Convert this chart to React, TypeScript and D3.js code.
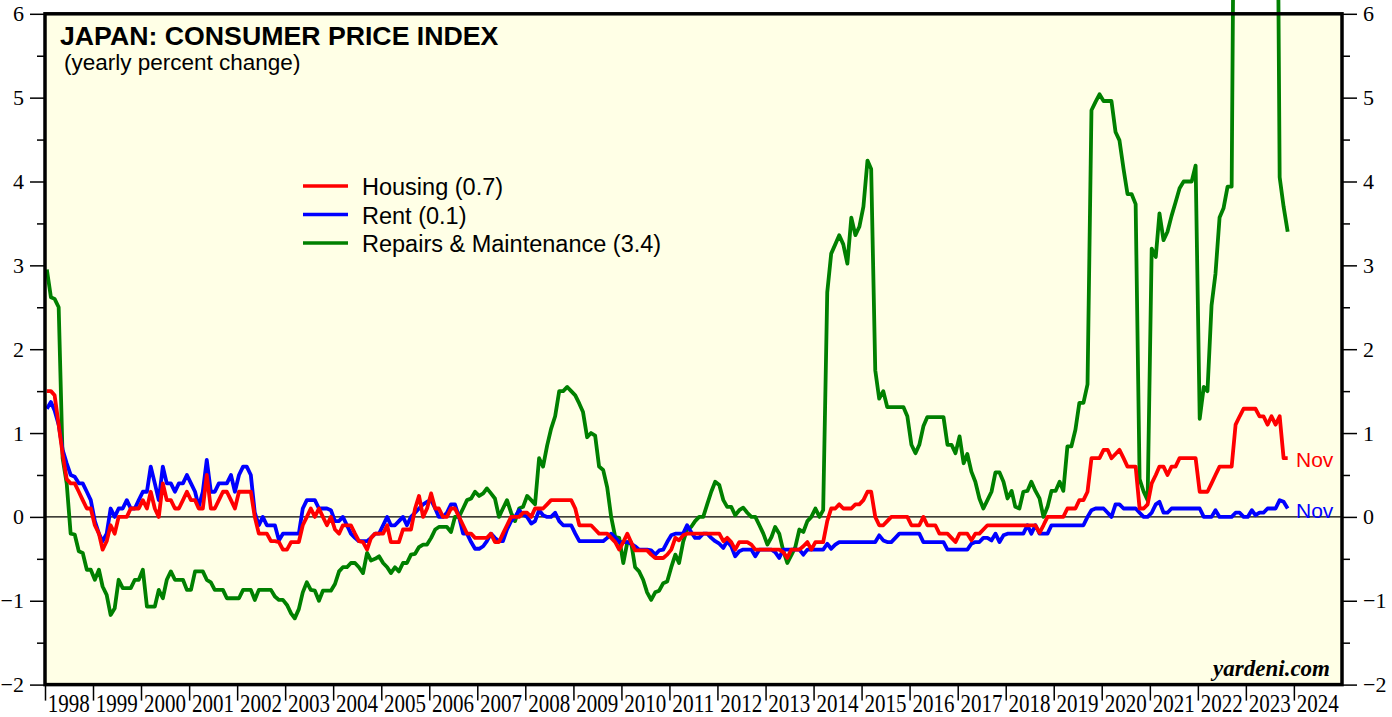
import React, { useEffect, useRef } from 'react'
import * as d3 from 'd3'

// monthly yearly % change, Jan 1998 .. Nov 2023
const housing = [
  1.5, 1.5, 1.45, 1.1, 0.75, 0.45, 0.4, 0.4, 0.3, 0.2, 0.1, 0.1, // 1998
  -0.1, -0.2, -0.39, -0.29, -0.1, -0.2, 0.0, 0.0, 0.0, 0.1, 0.1, 0.1,
  0.2, 0.1, 0.3, 0.1, 0.0, 0.4, 0.2, 0.2, 0.1, 0.1, 0.2, 0.3, // 2000
  0.2, 0.2, 0.1, 0.1, 0.5, 0.1, 0.1, 0.2, 0.3, 0.3, 0.2, 0.1,
  0.3, 0.3, 0.3, 0.3, 0.0, -0.2, -0.2, -0.2, -0.29, -0.29, -0.3, -0.39,
  -0.39, -0.3, -0.3, -0.3, -0.1, 0.0, 0.1, 0.0, 0.1, 0.0, -0.1, 0.0,
  -0.15, -0.2, -0.1, -0.1, -0.1, -0.2, -0.29, -0.3, -0.39, -0.25, -0.2, -0.2,
  -0.2, -0.1, -0.3, -0.3, -0.3, -0.15, -0.15, -0.15, 0.1, 0.25, 0.0, 0.1, // 2005
  0.28, 0.1, 0.1, 0.0, 0.0, 0.1, 0.1, 0.0, -0.1, -0.2, -0.2, -0.25,
  -0.25, -0.25, -0.25, -0.2, -0.3, -0.3, -0.2, -0.1, 0.0, 0.0, 0.0, 0.05,
  0.05, 0.0, 0.1, 0.1, 0.1, 0.15, 0.2, 0.2, 0.2, 0.2, 0.2, 0.2,
  0.1, -0.1, -0.1, -0.1, -0.1, -0.15, -0.2, -0.2, -0.2, -0.25, -0.3, -0.39,
  -0.3, -0.2, -0.3, -0.4, -0.4, -0.4, -0.4, -0.45, -0.49, -0.49, -0.49, -0.45, // 2010
  -0.39, -0.25, -0.28, -0.22, -0.2, -0.2, -0.2, -0.2, -0.2, -0.2, -0.2, -0.2,
  -0.2, -0.29, -0.25, -0.3, -0.39, -0.3, -0.3, -0.3, -0.33, -0.39, -0.39, -0.39,
  -0.39, -0.39, -0.39, -0.39, -0.42, -0.49, -0.39, -0.39, -0.39, -0.35, -0.3, -0.39,
  -0.3, -0.3, -0.3, -0.05, 0.1, 0.1, 0.15, 0.1, 0.1, 0.1, 0.15, 0.15,
  0.2, 0.3, 0.3, 0.0, -0.1, -0.1, -0.05, 0.0, 0.0, 0.0, 0.0, 0.0, // 2015
  -0.1, -0.1, -0.1, 0.0, -0.1, -0.1, -0.1, -0.2, -0.2, -0.2, -0.25, -0.3,
  -0.2, -0.2, -0.2, -0.28, -0.2, -0.2, -0.15, -0.1, -0.1, -0.1, -0.1, -0.1,
  -0.1, -0.1, -0.1, -0.1, -0.1, -0.1, -0.1, -0.1, -0.19, -0.1, 0.0, 0.0,
  0.0, 0.0, 0.0, 0.1, 0.1, 0.1, 0.2, 0.2, 0.3, 0.7, 0.7, 0.7,
  0.8, 0.8, 0.7, 0.75, 0.8, 0.7, 0.6, 0.6, 0.6, 0.1, 0.1, 0.15, // 2020
  0.4, 0.5, 0.6, 0.6, 0.5, 0.6, 0.6, 0.7, 0.7, 0.7, 0.7, 0.7,
  0.3, 0.3, 0.3, 0.4, 0.5, 0.6, 0.6, 0.6, 0.6, 1.1, 1.2, 1.29,
  1.29, 1.29, 1.29, 1.2, 1.2, 1.1, 1.2, 1.1, 1.2, 0.7, 0.7,
]

const rent = [
  1.29, 1.37, 1.27, 1.1, 0.8, 0.64, 0.5, 0.48, 0.4, 0.4, 0.3, 0.2, // 1998
  -0.05, -0.2, -0.29, -0.2, 0.1, 0.0, 0.1, 0.1, 0.2, 0.1, 0.1, 0.2,
  0.3, 0.3, 0.6, 0.4, 0.2, 0.6, 0.4, 0.4, 0.3, 0.4, 0.4, 0.5, // 2000
  0.4, 0.3, 0.12, 0.3, 0.68, 0.3, 0.3, 0.4, 0.4, 0.4, 0.5, 0.3,
  0.5, 0.6, 0.6, 0.5, 0.05, -0.1, 0.0, -0.1, -0.1, -0.1, -0.28, -0.2,
  -0.2, -0.2, -0.2, -0.2, 0.1, 0.2, 0.2, 0.2, 0.1, 0.1, 0.1, 0.08,
  -0.05, -0.05, 0.0, -0.1, -0.2, -0.25, -0.29, -0.29, -0.29, -0.25, -0.2, -0.2,
  -0.1, 0.0, -0.1, -0.1, -0.05, 0.0, -0.1, 0.0, 0.05, 0.1, 0.15, 0.18, // 2005
  0.2, 0.1, 0.0, 0.0, 0.05, 0.15, 0.15, 0.0, -0.2, -0.2, -0.3, -0.38,
  -0.38, -0.35, -0.29, -0.2, -0.25, -0.29, -0.29, -0.15, -0.05, 0.0, 0.08, 0.03,
  0.0, -0.08, -0.05, 0.08, 0.02, 0.0, 0.0, 0.05, -0.05, -0.1, -0.1, -0.1,
  -0.2, -0.29, -0.29, -0.29, -0.29, -0.29, -0.29, -0.29, -0.25, -0.2, -0.25, -0.3,
  -0.3, -0.3, -0.32, -0.35, -0.39, -0.39, -0.39, -0.4, -0.45, -0.4, -0.39, -0.3, // 2010
  -0.22, -0.2, -0.2, -0.2, -0.1, -0.18, -0.25, -0.25, -0.2, -0.2, -0.25, -0.29,
  -0.32, -0.37, -0.29, -0.35, -0.47, -0.41, -0.39, -0.39, -0.39, -0.47, -0.39, -0.39,
  -0.39, -0.39, -0.42, -0.49, -0.39, -0.39, -0.39, -0.39, -0.39, -0.45, -0.39, -0.39,
  -0.39, -0.39, -0.39, -0.32, -0.38, -0.33, -0.3, -0.3, -0.3, -0.3, -0.3, -0.3,
  -0.3, -0.3, -0.3, -0.3, -0.22, -0.28, -0.3, -0.3, -0.25, -0.2, -0.2, -0.2, // 2015
  -0.2, -0.2, -0.2, -0.3, -0.3, -0.3, -0.3, -0.3, -0.3, -0.39, -0.39, -0.39,
  -0.39, -0.39, -0.39, -0.32, -0.3, -0.3, -0.25, -0.25, -0.28, -0.2, -0.3, -0.22,
  -0.2, -0.2, -0.2, -0.2, -0.2, -0.1, -0.2, -0.1, -0.2, -0.2, -0.2, -0.1,
  -0.1, -0.1, -0.1, -0.1, -0.1, -0.1, -0.1, -0.1, 0.0, 0.08, 0.1, 0.1,
  0.1, 0.05, 0.0, 0.15, 0.15, 0.1, 0.1, 0.1, 0.1, 0.05, 0.0, 0.0, // 2020
  0.05, 0.15, 0.18, 0.05, 0.05, 0.1, 0.1, 0.1, 0.1, 0.1, 0.1, 0.1,
  0.1, 0.0, 0.0, 0.0, 0.08, 0.0, 0.0, 0.0, 0.0, 0.05, 0.05, 0.0,
  0.0, 0.08, 0.02, 0.05, 0.05, 0.1, 0.1, 0.1, 0.2, 0.18, 0.1,
]

const repairs = [
  2.95, 2.62, 2.6, 2.5, 0.7, 0.4, -0.2, -0.21, -0.41, -0.43, -0.63, -0.63, // 1998
  -0.75, -0.63, -0.83, -0.93, -1.17, -1.09, -0.75, -0.85, -0.85, -0.85, -0.75, -0.75,
  -0.63, -1.07, -1.07, -1.07, -0.87, -0.97, -0.75, -0.65, -0.75, -0.75, -0.75, -0.87, // 2000
  -0.87, -0.65, -0.65, -0.65, -0.75, -0.78, -0.87, -0.87, -0.87, -0.97, -0.97, -0.97,
  -0.97, -0.87, -0.87, -0.87, -0.99, -0.87, -0.87, -0.87, -0.87, -0.95, -0.99, -0.99,
  -1.05, -1.15, -1.21, -1.1, -0.9, -0.78, -0.87, -0.88, -1.0, -0.88, -0.88, -0.88,
  -0.8, -0.65, -0.6, -0.6, -0.55, -0.55, -0.6, -0.67, -0.43, -0.52, -0.5, -0.47,
  -0.55, -0.6, -0.67, -0.6, -0.65, -0.55, -0.55, -0.45, -0.44, -0.36, -0.33, -0.33, // 2005
  -0.25, -0.15, -0.12, -0.12, -0.12, -0.18, 0.0, 0.0, 0.1, 0.2, 0.22, 0.3,
  0.25, 0.28, 0.34, 0.28, 0.22, 0.0, 0.1, 0.2, 0.05, -0.05, 0.1, 0.12,
  0.25, 0.2, 0.15, 0.7, 0.6, 0.85, 1.05, 1.2, 1.5, 1.5, 1.55, 1.5,
  1.45, 1.35, 1.25, 0.95, 1.0, 0.97, 0.6, 0.56, 0.35, 0.0, -0.24, -0.25,
  -0.55, -0.3, -0.3, -0.6, -0.65, -0.75, -0.9, -0.99, -0.9, -0.88, -0.79, -0.77, // 2010
  -0.6, -0.45, -0.55, -0.3, -0.15, -0.12, -0.05, 0.0, 0.0, 0.15, 0.3, 0.42,
  0.38, 0.2, 0.12, 0.12, 0.02, 0.08, 0.11, 0.05, 0.0, 0.0, -0.1, -0.2,
  -0.33, -0.24, -0.12, -0.2, -0.4, -0.55, -0.46, -0.36, -0.15, -0.18, -0.05, 0.0,
  0.1, 0.0, 0.08, 2.68, 3.14, 3.25, 3.36, 3.25, 3.02, 3.57, 3.36, 3.46,
  3.7, 4.25, 4.15, 1.75, 1.41, 1.5, 1.31, 1.31, 1.31, 1.31, 1.31, 1.2, // 2015
  0.86, 0.76, 0.86, 1.08, 1.19, 1.19, 1.19, 1.19, 1.19, 0.86, 0.86, 0.76,
  0.96, 0.64, 0.75, 0.54, 0.42, 0.22, 0.1, 0.2, 0.3, 0.53, 0.53, 0.42,
  0.22, 0.31, 0.12, 0.1, 0.3, 0.31, 0.42, 0.31, 0.22, 0.0, 0.12, 0.31,
  0.31, 0.42, 0.31, 0.84, 0.84, 1.04, 1.36, 1.36, 1.58, 4.85, 4.95, 5.04,
  4.96, 4.96, 4.96, 4.59, 4.49, 4.15, 3.85, 3.85, 3.73, 0.45, 0.3, 0.2, // 2020
  3.2, 3.1, 3.62, 3.3, 3.4, 3.59, 3.75, 3.92, 4.0, 4.0, 4.0, 4.19,
  1.17, 1.55, 1.5, 2.52, 2.9, 3.57, 3.68, 3.94, 3.94, 10.5, 11.2, 11.8,
  12.0, 11.5, 11.8, 12.2, 11.5, 11.0, 11.2, 11.0, 4.05, 3.7, 3.4,
]

const yearLabels = ['1998', '1999', '2000', '2001', '2002', '2003', '2004', '2005', '2006',
  '2007', '2008', '2009', '2010', '2011', '2012', '2013', '2014', '2015', '2016',
  '2017', '2018', '2019', '2020', '2021', '2022', '2023', '2024']
const yTicks = [-2, -1, 0, 1, 2, 3, 4, 5, 6]
const yMinor = [-1.5, -0.5, 0.5, 1.5, 2.5, 3.5, 4.5, 5.5]
const legendLabels = ['Housing (0.7)', 'Rent (0.1)', 'Repairs & Maintenance (3.4)']

const App = () => {
  const ref = useRef<SVGSVGElement>(null)

  useEffect(() => {
    const svg = d3.select(ref.current)
    svg.selectAll('*').remove()

    const left = 45, right = 1342, top = 13.8, bottom = 684.6
    const serif = "'Liberation Serif', 'Times New Roman', serif"
    const sans = "'Liberation Sans', Arial, sans-serif"

    const x = d3.scaleTime().domain([new Date(1998, 0, 1), new Date(2025, 0, 1)]).range([left, right])
    const y = d3.scaleLinear().domain([-2, 6]).range([bottom, top])
    const xm = (i: number) => x(new Date(1998, i, 15))

    svg.append('rect').attr('width', 1392).attr('height', 717).attr('fill', '#ffffff')
    svg.append('rect')
      .attr('x', left).attr('y', top)
      .attr('width', right - left).attr('height', bottom - top)
      .attr('fill', '#ffffe6')

    // y axes
    const styleAxis = (g: any) => {
      g.select('.domain').remove()
      g.selectAll('line').attr('stroke', '#000').attr('stroke-width', 1.5)
      g.selectAll('text').attr('font-family', serif).attr('font-size', 22).attr('fill', '#000')
    }
    svg.append('g').attr('transform', `translate(${left},0)`)
      .call(d3.axisLeft(y).tickValues(yTicks).tickSize(15).tickPadding(6).tickFormat(d3.format('d')))
      .call(styleAxis)
    svg.append('g').attr('transform', `translate(${left},0)`)
      .call(d3.axisLeft(y).tickValues(yMinor).tickSize(8).tickFormat(() => ''))
      .call(styleAxis)
    svg.append('g').attr('transform', `translate(${right},0)`)
      .call(d3.axisRight(y).tickValues(yTicks).tickSize(15).tickPadding(6).tickFormat(d3.format('d')))
      .call(styleAxis)
    svg.append('g').attr('transform', `translate(${right},0)`)
      .call(d3.axisRight(y).tickValues(yMinor).tickSize(8).tickFormat(() => ''))
      .call(styleAxis)

    // x axis: ticks at year boundaries, labels between them
    const yearDates = yearLabels.map(s => new Date(+s, 0, 1))
    svg.append('g').attr('transform', `translate(0,${bottom})`)
      .call(d3.axisBottom(x).tickValues(yearDates).tickSize(16).tickFormat(() => ''))
      .call(styleAxis)
    svg.append('g').selectAll('text').data(yearLabels).join('text')
      .attr('x', d => x(new Date(+d, 6, 1)))
      .attr('y', 712)
      .attr('text-anchor', 'middle')
      .attr('font-family', serif)
      .attr('font-size', 26)
      .attr('textLength', 42)
      .attr('lengthAdjust', 'spacingAndGlyphs')
      .text(d => d)

    // zero line
    svg.append('line')
      .attr('x1', left).attr('x2', right)
      .attr('y1', y(0)).attr('y2', y(0))
      .attr('stroke', '#000').attr('stroke-width', 1.2)

    const line = d3.line<number>().x((d, i) => xm(i)).y(d => y(d))
    const series = [
      { values: repairs, color: '#008000' },
      { values: rent, color: '#0000ff' },
      { values: housing, color: '#ff0000' },
    ]
    series.forEach(s => {
      svg.append('path')
        .datum(s.values)
        .attr('d', line)
        .attr('fill', 'none')
        .attr('stroke', s.color)
        .attr('stroke-width', 3.8)
        .attr('stroke-linejoin', 'round')
    })

    // end labels
    const endLabels = [
      { v: housing[housing.length - 1], color: '#ff0000', dy: 9 },
      { v: rent[rent.length - 1], color: '#0000ff', dy: 9 },
    ]
    endLabels.forEach(l => {
      svg.append('text')
        .attr('x', 1296).attr('y', y(l.v) + l.dy)
        .attr('font-family', sans).attr('font-size', 21)
        .attr('fill', l.color)
        .text('Nov')
    })

    // frame
    svg.append('rect')
      .attr('x', left).attr('y', top)
      .attr('width', right - left).attr('height', bottom - top)
      .attr('fill', 'none').attr('stroke', '#000').attr('stroke-width', 3.5)

    // titles
    svg.append('text')
      .attr('x', 60).attr('y', 45)
      .attr('font-family', sans).attr('font-weight', 'bold').attr('font-size', 26.7)
      .text('JAPAN: CONSUMER PRICE INDEX')
    svg.append('text')
      .attr('x', 64).attr('y', 70)
      .attr('font-family', sans).attr('font-size', 22.5)
      .text('(yearly percent change)')

    // legend
    const colors = ['#ff0000', '#0000ff', '#008000']
    const lg = svg.append('g')
    legendLabels.forEach((lab, i) => {
      const ly = 186 + i * 28.5
      lg.append('line')
        .attr('x1', 303).attr('x2', 348).attr('y1', ly).attr('y2', ly)
        .attr('stroke', colors[i]).attr('stroke-width', 3.5)
      lg.append('text')
        .attr('x', 362).attr('y', ly + 9)
        .attr('font-family', sans).attr('font-size', 23.5)
        .text(lab)
    })

    svg.append('text')
      .attr('x', 1330).attr('y', 676)
      .attr('text-anchor', 'end')
      .attr('font-family', serif).attr('font-weight', 'bold').attr('font-style', 'italic')
      .attr('font-size', 23)
      .text('yardeni.com')
  }, [])

  return (
    <svg ref={ref} width={1392} height={717}
      style={{ position: 'absolute', left: 0, top: 0, display: 'block' }} />
  )
}

export default App
